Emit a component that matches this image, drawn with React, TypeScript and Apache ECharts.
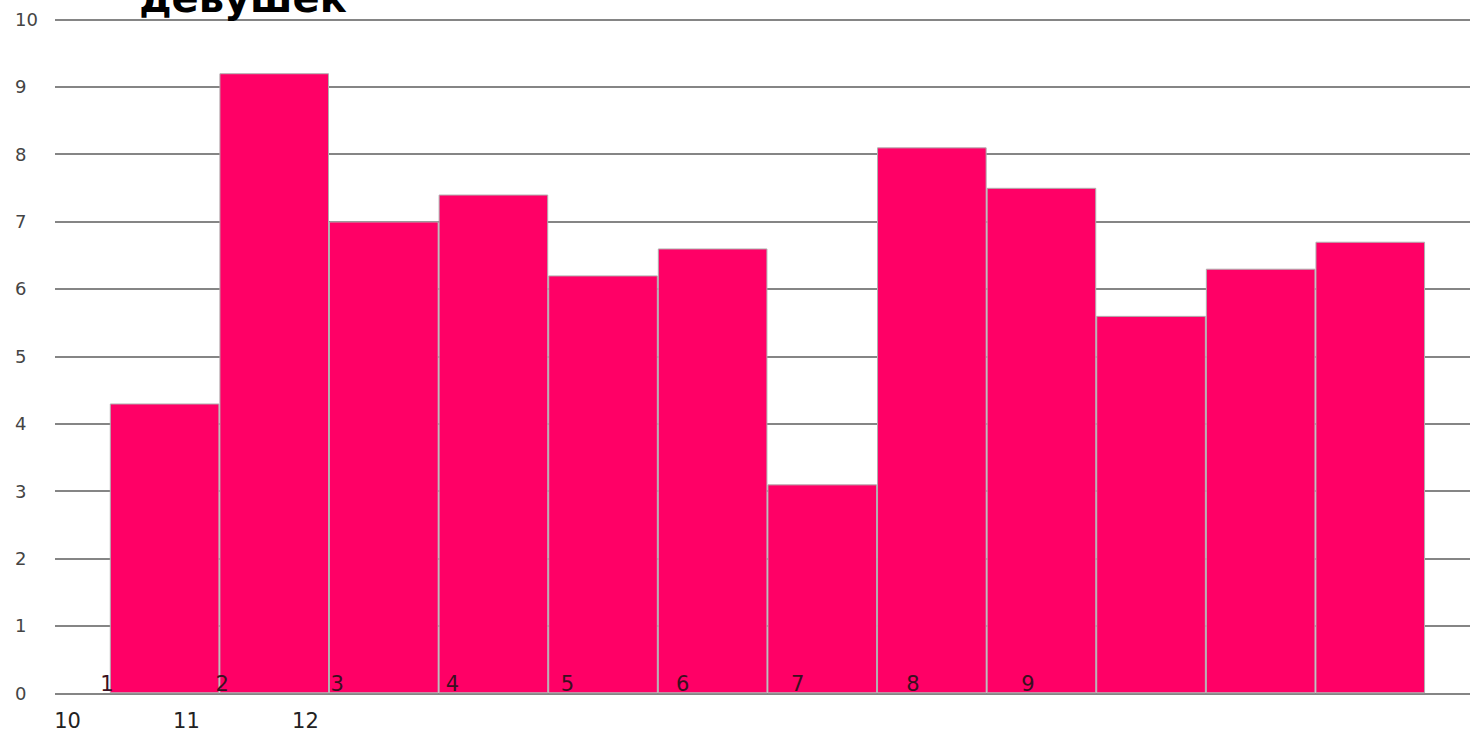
import React, { useEffect, useRef } from "react";
import * as echarts from "echarts";

const categories = [1, 2, 3, 4, 5, 6, 7, 8, 9, 10, 11, 12];
const values = [4.3, 9.2, 7.0, 7.4, 6.2, 6.6, 3.1, 8.1, 7.5, 5.6, 6.3, 6.7];
const rowOneLabels = [1, 2, 3, 4, 5, 6, 7, 8, 9];
const rowTwoLabels = [10, 11, 12];
const yTicks = [0, 1, 2, 3, 4, 5, 6, 7, 8, 9, 10];
const titleText = "девушек";

export default function App() {
  const ref = useRef<HTMLDivElement>(null);
  useEffect(() => {
    if (!ref.current) return;
    const chart = echarts.init(ref.current, null, { renderer: "svg" });
    const gridLeft = 55;
    const plotWidth = 1470 - gridLeft;
    const xMax = 12.91;
    const barWidth = plotWidth / xMax;
    chart.setOption({
      animation: false,
      backgroundColor: "#ffffff",
      grid: { left: gridLeft, right: 0, top: 19.3, bottom: 38.7 },
      graphic: [
        {
          type: "text",
          x: 243,
          y: 18,
          style: {
            text: titleText,
            fontFamily: "DejaVu Sans",
            fontWeight: "bold",
            fontSize: 40,
            fill: "#000",
            textAlign: "center",
            textVerticalAlign: "bottom",
          },
          z: 10,
        },
      ],
      xAxis: [
        {
          type: "value",
          min: 0,
          max: xMax,
          show: false,
          splitLine: { show: false },
        },
        {
          type: "value",
          position: "bottom",
          min: 0.548,
          max: 12.84,
          axisLine: { show: false },
          axisTick: { show: false },
          splitLine: { show: false },
          axisLabel: {
            inside: true,
            margin: 9,
            verticalAlign: "middle",
            customValues: rowOneLabels,
            formatter: (v: number) => String(Math.round(v)),
            color: "#3a1020",
            fontSize: 21,
            fontFamily: "DejaVu Sans",
          },
          z: 5,
        },
        {
          type: "value",
          position: "bottom",
          min: 9.895,
          max: 21.79,
          axisLine: { show: false },
          axisTick: { show: false },
          splitLine: { show: false },
          axisLabel: {
            margin: 28,
            verticalAlign: "middle",
            customValues: rowTwoLabels,
            formatter: (v: number) => String(Math.round(v)),
            color: "#222",
            fontSize: 21,
            fontFamily: "DejaVu Sans",
          },
        },
      ],
      yAxis: {
        type: "value",
        min: 0,
        max: 10,
        interval: 1,
        axisLine: { show: false },
        axisTick: { show: false },
        splitLine: { show: true, lineStyle: { color: "#858585", width: 2 } },
        axisLabel: {
          align: "left",
          margin: 40,
          color: "#444",
          fontSize: 18,
          fontFamily: "DejaVu Sans",
          customValues: yTicks,
        },
      },
      series: [
        {
          type: "bar",
          xAxisIndex: 0,
          barWidth: barWidth,
          data: categories.map((c, i) => [c, values[i]]),
          itemStyle: { color: "#FF0066", borderColor: "#b0b0b0", borderWidth: 1 },
          z: 2,
        },
      ],
    });
    return () => chart.dispose();
  }, []);
  return (
    <div
      ref={ref}
      style={{ position: "absolute", left: 0, top: 0, width: 1470, height: 732 }}
    />
  );
}
